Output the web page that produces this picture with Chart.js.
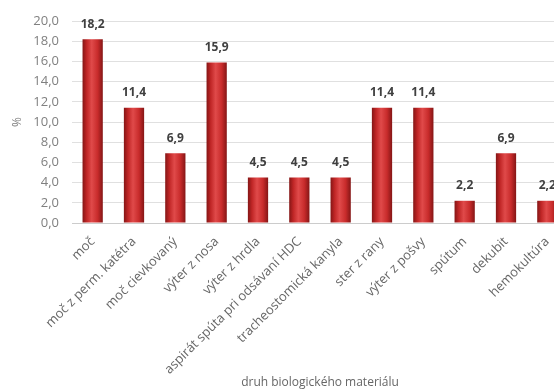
<!DOCTYPE html>
<html>
<head>
<meta charset="utf-8">
<script src="https://cdn.jsdelivr.net/npm/chart.js@4.4.0/dist/chart.umd.min.js"></script>
<style>
  html, body { margin: 0; padding: 0; background: #fff; overflow: hidden; }
  #wrap { width: 570px; height: 390px; position: relative; }
</style>
</head>
<body>
<div id="wrap"><canvas id="chart"></canvas></div>
<script>
// data
const categories = [
  'moč', 'moč z perm. katétra', 'moč cievkovaný', 'výter z nosa', 'výter z hrdla',
  'aspirát spúta pri odsávaní HDC', 'tracheostomická kanyla', 'ster z rany',
  'výter z pošvy', 'spútum', 'dekubit', 'hemokultúra'
];
const percents = [18.2, 11.4, 6.9, 15.9, 4.5, 4.5, 4.5, 11.4, 11.4, 2.2, 6.9, 2.2];
const yTicks = [0, 2, 4, 6, 8, 10, 12, 14, 16, 18, 20];

const fmt = v => v.toFixed(1).replace('.', ',');

// shaded red fill for each bar
function barFill(context) {
  const chart = context.chart;
  const x = chart.scales.x;
  if (!chart.chartArea || !x) return '#c42a2a';
  const cx = x.getPixelForValue(context.dataIndex);
  const half = 10;
  const g = chart.ctx.createLinearGradient(cx - half, 0, cx + half, 0);
  g.addColorStop(0, '#861616');
  g.addColorStop(0.2, '#c02626');
  g.addColorStop(0.45, '#e04a4a');
  g.addColorStop(0.75, '#c82b2b');
  g.addColorStop(1, '#861616');
  return g;
}

// value labels above bars
const valueLabels = {
  id: 'valueLabels',
  afterDatasetsDraw(chart) {
    const ctx = chart.ctx;
    const meta = chart.getDatasetMeta(0);
    ctx.save();
    ctx.font = 'bold 12px "Open Sans", sans-serif';
    ctx.fillStyle = '#404040';
    ctx.textAlign = 'center';
    ctx.textBaseline = 'bottom';
    meta.data.forEach((bar, i) => {
      ctx.fillText(fmt(percents[i]), bar.x, bar.y - 9);
    });
    ctx.restore();
  }
};

new Chart(document.getElementById('chart'), {
  type: 'bar',
  data: {
    labels: categories,
    datasets: [{
      data: percents,
      backgroundColor: barFill,
      borderWidth: 0,
      categoryPercentage: 1,
      barPercentage: 0.49
    }]
  },
  options: {
    responsive: true,
    maintainAspectRatio: false,
    animation: false,
    layout: { padding: { top: 21, right: 2, left: 0, bottom: 0 } },
    plugins: {
      legend: { display: false },
      tooltip: { enabled: false }
    },
    scales: {
      x: {
        grid: { display: false },
        border: { display: true, color: '#cccccc', width: 1 },
        ticks: {
          autoSkip: false,
          minRotation: 45,
          maxRotation: 45,
          padding: 3,
          color: '#666666',
          font: { family: 'Open Sans', size: 13 }
        },
        title: {
          display: true,
          text: 'druh biologického materiálu',
          color: '#666666',
          font: { family: 'Open Sans', size: 12 },
          padding: { top: 0, bottom: 0 }
        },
        afterFit(scale) { scale.height = 167; }
      },
      y: {
        min: 0,
        max: 20,
        afterBuildTicks(scale) { scale.ticks = yTicks.map(v => ({ value: v })); },
        grid: { color: '#e0e0e0', drawTicks: false },
        border: { display: false },
        ticks: {
          padding: 13,
          color: '#808080',
          font: { family: 'Open Sans', size: 13 },
          callback: v => fmt(v)
        },
        title: {
          display: true,
          text: '%',
          color: '#808080',
          font: { family: 'Open Sans', size: 12 },
          padding: { top: 10, bottom: 10 }
        },
        afterFit(scale) { scale.width = 72; }
      }
    }
  },
  plugins: [valueLabels]
});
</script>
</body>
</html>
